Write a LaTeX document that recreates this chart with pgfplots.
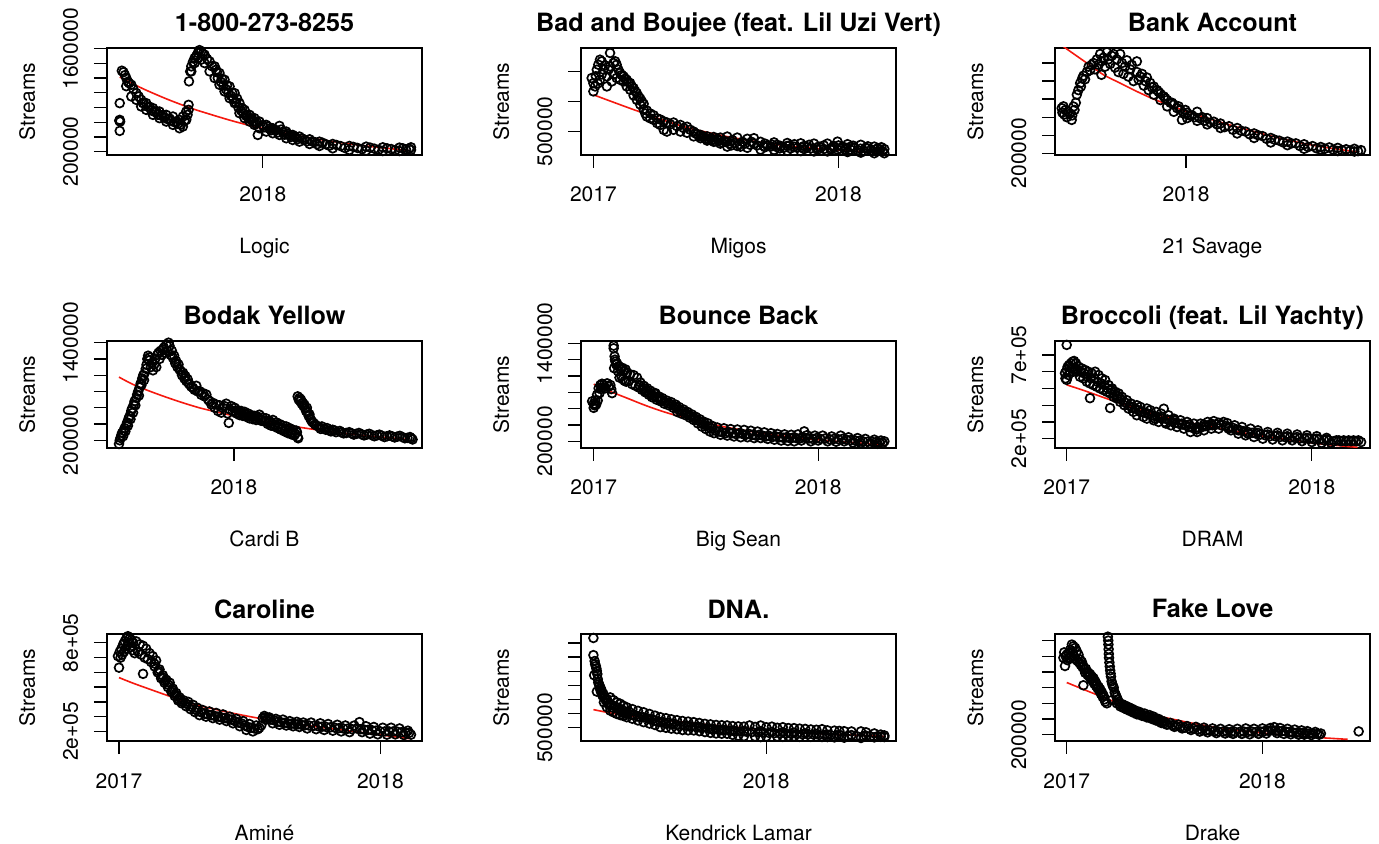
\documentclass[border=0pt]{standalone}
\usepackage{pgfplots}
\pgfplotsset{compat=1.18}
\usepackage{pgfplotstable}
\usepackage{fontspec}
\setmainfont{TeX Gyre Heros}
\definecolor{fitred}{RGB}{245,25,15}
\pgfplotsset{
  rpanel/.style={
    scale only axis, width=157.5pt, height=53.5pt, anchor=south west,
    axis line style={line width=0.65pt},
    every tick/.style={black, line width=0.65pt},
    tick align=outside, major tick length=6.5pt,
    xtick pos=bottom, ytick pos=left,
    scaled x ticks=false, scaled y ticks=false,
    /pgf/number format/assume math mode=true,
    tick label style={font=\fontsize{10.5}{12}\selectfont},
    yticklabel style={rotate=90, anchor=base},
    xticklabel style={anchor=base},
    xticklabel shift=17pt, yticklabel shift=8pt,
    title style={at={(axis description cs:0.5,1)}, anchor=base, yshift=2pt, font=\bfseries\fontsize{12.6}{14}\selectfont},
    xlabel style={at={(axis description cs:0.5,0)}, anchor=base, yshift=-49.5pt, font=\fontsize{10.5}{12}\selectfont},
    ylabel style={at={(axis description cs:-0.2286,0.5)}, anchor=base, font=\fontsize{10.5}{12}\selectfont},
    ylabel={Streams},
  },
  pts/.style={only marks, mark=o, mark size=2.2pt, mark options={line width=0.85pt, black}, black},
  fitl/.style={no marks, smooth, fitred, line width=0.8pt},
}
% x = years since 1 Jan 2017
\pgfplotstableread{
x y
0.320 859000
0.320 632000
0.322 609000
0.318 620000
0.320 482000
0.330 1300000
0.338 1280000
0.345 1240000
0.351 1200000
0.351 1090000
0.359 1150000
0.365 1130000
0.375 1109000
0.375 950000
0.385 1050000
0.399 995000
0.399 904000
0.410 950000
0.422 904000
0.422 814000
0.434 860000
0.446 859000
0.446 768000
0.462 810000
0.478 791000
0.478 700000
0.494 750000
0.509 745000
0.509 655000
0.525 700000
0.541 700000
0.541 609000
0.557 650000
0.573 677000
0.573 564000
0.588 610000
0.604 632000
0.604 518000
0.612 570000
0.620 677000
0.620 541000
0.628 620000
0.636 745000
0.636 632000
0.642 700000
0.647 836000
0.647 768000
0.649 1155000
0.655 1290000
0.660 1359000
0.660 1291000
0.668 1420000
0.676 1473000
0.676 1404000
0.684 1500000
0.691 1541000
0.691 1473000
0.699 1580000
0.707 1564000
0.707 1450000
0.715 1530000
0.723 1518000
0.723 1404000
0.735 1460000
0.747 1427000
0.747 1291000
0.759 1360000
0.771 1359000
0.771 1200000
0.778 1313000
0.782 1280000
0.794 1268000
0.794 1109000
0.806 1190000
0.818 1177000
0.818 1018000
0.830 1100000
0.842 1086000
0.842 927000
0.854 1000000
0.866 995000
0.866 859000
0.878 920000
0.889 859000
0.889 723000
0.901 790000
0.913 768000
0.913 655000
0.925 700000
0.937 700000
0.937 609000
0.949 650000
0.960 655000
0.960 564000
0.972 600000
0.976 427000
0.984 609000
0.984 518000
1.000 560000
1.016 564000
1.016 473000
1.031 510000
1.047 518000
1.047 450000
1.063 490000
1.079 550000
1.079 427000
1.095 470000
1.111 473000
1.111 382000
1.127 420000
1.142 427000
1.142 359000
1.158 390000
1.174 405000
1.174 336000
1.198 360000
1.222 368000
1.222 304000
1.246 330000
1.269 336000
1.269 277000
1.300 300000
1.332 304000
1.332 245000
1.370 275000
1.411 277000
1.411 223000
1.450 250000
1.491 268000
1.491 214000
1.530 240000
1.570 259000
1.570 209000
1.610 235000
1.649 255000
1.649 209000
1.680 230000
1.704 259000
1.704 223000
1.005 530000
1.024 540000
1.039 490000
1.055 500000
1.071 460000
1.087 500000
1.103 430000
1.119 440000
1.134 400000
1.150 410000
1.166 370000
1.186 380000
1.210 340000
1.234 340000
1.258 300000
1.284 320000
1.316 280000
1.350 290000
1.390 250000
1.430 265000
1.470 235000
1.510 255000
1.550 225000
1.590 245000
1.630 220000
1.665 245000
1.695 240000
0.430 860000
0.454 810000
0.470 760000
0.486 740000
0.502 700000
0.517 690000
0.533 660000
0.549 640000
0.565 620000
0.580 600000
0.596 580000
0.786 1200000
0.800 1150000
0.812 1100000
0.824 1050000
0.836 1000000
0.848 960000
0.860 920000
0.872 870000
0.884 800000
0.896 760000
0.907 720000
0.919 690000
0.931 650000
0.943 640000
0.955 610000
0.966 580000
}\ptA
\pgfplotstableread{
x y
0.320 1213600
0.430 1056000
0.541 918500
0.636 814000
0.699 752600
0.858 615600
1.000 514000
1.174 413000
1.332 338000
1.491 277000
1.696 213600
}\ftA
\pgfplotstableread{
x y
-0.007 1389000
0.000 1167000
0.000 1305000
0.007 1250000
0.010 1420000
0.014 1528000
0.018 1300000
0.020 1611000
0.027 1694000
0.027 1361000
0.034 1667000
0.034 1450000
0.041 1528000
0.048 1600000
0.055 1417000
0.055 1250000
0.062 1530000
0.068 1806000
0.068 1583000
0.075 1333000
0.082 1639000
0.082 1450000
0.089 1667000
0.095 1611000
0.095 1390000
0.102 1530000
0.109 1472000
0.109 1361000
0.116 1440000
0.123 1417000
0.123 1333000
0.130 1380000
0.136 1361000
0.136 1250000
0.143 1320000
0.150 1306000
0.150 1195000
0.157 1250000
0.164 1222000
0.164 1100000
0.171 1170000
0.177 1139000
0.177 1028000
0.184 1083000
0.191 1050000
0.191 950000
0.198 1000000
0.205 960000
0.205 870000
0.212 800000
0.218 850000
0.218 750000
0.232 800000
0.232 720000
0.246 770000
0.246 694000
0.260 720000
0.260 640000
0.273 700000
0.273 610000
0.287 670000
0.287 528000
0.300 650000
0.300 500000
0.314 620000
0.327 650000
0.327 530000
0.341 590000
0.355 610000
0.355 500000
0.368 560000
0.382 580000
0.382 480000
0.395 530000
0.409 500000
0.409 420000
0.423 460000
0.437 445000
0.437 390000
0.450 420000
0.464 420000
0.464 350000
0.478 390000
0.491 410000
0.491 330000
0.505 380000
0.518 400000
0.518 300000
0.532 350000
0.546 417000
0.546 250000
0.546 330000
0.567 360000
0.587 400000
0.587 260000
0.608 330000
0.628 380000
0.628 230000
0.655 390000
0.655 300000
0.682 330000
0.682 200000
0.710 270000
0.737 320000
0.737 195000
0.764 260000
0.791 310000
0.791 180000
0.818 250000
0.846 305000
0.846 175000
0.873 240000
0.900 300000
0.900 170000
0.928 240000
0.955 300000
0.955 170000
0.980 240000
0.996 333000
0.996 200000
1.016 250000
1.037 290000
1.037 160000
1.064 230000
1.091 280000
1.091 150000
1.118 220000
1.146 250000
1.146 140000
1.170 200000
1.187 210000
1.187 140000
0.416 470000
0.430 430000
0.444 410000
0.457 380000
0.471 370000
0.484 360000
0.498 340000
0.511 350000
0.525 320000
0.539 330000
0.556 300000
0.577 310000
0.597 290000
0.618 300000
0.640 280000
0.668 270000
0.695 260000
0.723 250000
0.750 240000
0.777 230000
0.805 220000
0.832 230000
0.860 210000
0.887 220000
0.914 200000
0.941 210000
0.968 200000
1.006 220000
1.027 200000
1.050 200000
1.078 190000
1.105 180000
1.132 190000
1.158 170000
1.180 170000
0.563 270000
0.600 250000
0.645 330000
0.700 300000
0.750 280000
0.800 270000
0.860 260000
0.920 250000
0.980 260000
1.050 250000
1.110 230000
1.160 220000
0.700 240000
0.730 280000
0.760 220000
0.790 260000
0.820 290000
0.850 240000
0.880 280000
0.910 230000
0.940 270000
0.970 225000
1.000 270000
1.030 230000
1.060 265000
1.090 215000
1.120 255000
1.150 200000
1.175 240000
}\ptB
\pgfplotstableread{
x y
0.000 1111000
0.136 906000
0.205 806000
0.273 706000
0.341 617000
0.409 539000
0.546 417000
0.682 322000
0.819 250000
0.955 206000
1.187 139000
}\ftB
\pgfplotstableread{
x y
0.515 700000
0.518 650000
0.522 720000
0.525 630000
0.530 680000
0.535 600000
0.540 660000
0.548 640000
0.554 570000
0.556 620000
0.561 718000
0.565 680000
0.570 760000
0.574 850000
0.580 900000
0.587 977000
0.590 940000
0.595 1030000
0.600 1060000
0.606 1020000
0.613 1100000
0.620 1160000
0.626 1120000
0.632 1180000
0.639 1200000
0.645 1130000
0.652 1240000
0.659 1180000
0.665 1300000
0.670 1220000
0.670 1070000
0.678 1260000
0.684 1160000
0.691 1320000
0.697 1240000
0.704 1190000
0.710 1280000
0.717 1300000
0.723 1150000
0.730 1240000
0.736 1100000
0.743 1300000
0.750 1200000
0.756 1080000
0.762 1160000
0.769 1230000
0.775 1050000
0.782 1130000
0.788 1180000
0.795 1000000
0.808 1218000
0.808 1100000
0.815 1015000
0.828 1080000
0.835 950000
0.847 1040000
0.854 900000
0.860 980000
0.874 940000
0.874 850000
0.887 900000
0.900 860000
0.900 790000
0.913 830000
0.926 790000
0.926 720000
0.939 760000
0.952 740000
0.952 660000
0.965 700000
0.984 570000
0.978 680000
0.991 640000
1.004 650000
1.004 590000
1.023 620000
1.043 660000
1.043 560000
1.063 600000
1.082 590000
1.082 520000
1.108 550000
1.134 530000
1.134 480000
1.167 500000
1.199 480000
1.199 420000
1.232 440000
1.265 420000
1.265 370000
1.298 390000
1.330 370000
1.330 320000
1.363 340000
1.395 330000
1.395 290000
1.428 310000
1.460 300000
1.460 250000
1.493 280000
1.525 270000
1.525 240000
1.558 265000
1.591 260000
1.591 225000
1.624 245000
1.656 250000
1.656 220000
1.682 235000
1.013 620000
1.033 600000
1.053 590000
1.072 560000
1.095 540000
1.121 520000
1.150 490000
1.183 460000
1.215 450000
1.248 410000
1.281 400000
1.314 360000
1.346 350000
1.379 320000
1.411 310000
1.444 280000
1.476 270000
1.509 255000
1.541 250000
1.574 240000
1.607 235000
1.640 230000
1.670 225000
0.821 1050000
0.841 1000000
0.867 930000
0.893 880000
0.919 810000
0.945 760000
0.971 720000
0.997 680000
}\ptC
\pgfplotstableread{
x y
0.515 1400000
0.535 1355500
0.613 1200000
0.678 1070000
0.743 977700
0.808 885100
0.874 799900
0.939 729600
1.004 662900
1.134 544300
1.265 440600
1.395 348000
1.525 273900
1.669 214700
}\ftC
\pgfplotstableread{
x y
0.550 155000
0.553 200000
0.556 230000
0.559 260000
0.562 290000
0.566 250000
0.569 320000
0.572 350000
0.575 310000
0.579 390000
0.582 420000
0.585 380000
0.588 470000
0.592 500000
0.595 460000
0.598 560000
0.601 590000
0.605 540000
0.608 640000
0.611 680000
0.614 630000
0.618 720000
0.621 760000
0.625 800000
0.628 750000
0.631 850000
0.635 900000
0.638 880000
0.641 960000
0.645 1000000
0.648 940000
0.651 1030000
0.655 1080000
0.658 1130000
0.661 1200000
0.664 1240000
0.667 1180000
0.670 1220000
0.675 1100000
0.680 1150000
0.683 1060000
0.688 1130000
0.692 1200000
0.696 1100000
0.700 1250000
0.705 1277000
0.709 1200000
0.713 1300000
0.718 1250000
0.722 1318000
0.726 1340000
0.730 1280000
0.735 1380000
0.739 1300000
0.744 1400000
0.748 1360000
0.752 1250000
0.757 1300000
0.761 1215000
0.766 1240000
0.770 1150000
0.774 1174000
0.779 1100000
0.783 1133000
0.787 1071000
0.792 1050000
0.797 1000000
0.801 1030000
0.806 960000
0.810 990000
0.814 927000
0.819 950000
0.823 900000
0.827 886000
0.833 860000
0.840 845000
0.846 820000
0.853 870000
0.859 800000
0.866 804000
0.872 760000
0.879 780000
0.885 740000
0.892 763000
0.899 700000
0.905 680000
0.912 640000
0.918 660000
0.925 600000
0.931 640000
0.938 560000
0.944 630000
0.951 540000
0.957 600000
0.964 620000
0.970 650000
0.975 530000
0.980 414000
0.984 580000
0.990 620000
0.996 558000
1.003 600000
1.010 530000
1.016 570000
1.022 510000
1.029 560000
1.035 500000
1.042 550000
1.048 490000
1.055 530000
1.061 470000
1.068 510000
1.074 460000
1.081 500000
1.087 450000
1.094 490000
1.100 515000
1.107 440000
1.113 480000
1.120 430000
1.126 470000
1.133 400000
1.139 440000
1.146 380000
1.153 450000
1.159 370000
1.166 420000
1.172 350000
1.179 400000
1.185 330000
1.192 380000
1.198 310000
1.205 370000
1.211 290000
1.218 350000
1.224 275000
1.231 330000
1.237 260000
1.244 320000
1.250 240000
1.247 300000
1.252 225000
1.250 740000
1.254 700000
1.257 720000
1.260 680000
1.263 700000
1.266 650000
1.270 660000
1.273 620000
1.276 640000
1.280 590000
1.283 560000
1.286 600000
1.289 540000
1.293 500000
1.296 520000
1.299 470000
1.302 454000
1.306 430000
1.312 414000
1.318 393000
1.325 380000
1.335 360000
1.345 370000
1.355 340000
1.365 350000
1.375 320000
1.387 330000
1.400 300000
1.415 315000
1.430 285000
1.452 300000
1.470 270000
1.490 290000
1.510 260000
1.530 280000
1.550 250000
1.570 270000
1.590 240000
1.610 260000
1.630 235000
1.650 255000
1.670 225000
1.690 240000
1.700 210000
1.340 340000
1.360 330000
1.380 310000
1.395 320000
1.420 300000
1.440 290000
1.462 285000
1.480 280000
1.500 275000
1.520 270000
1.540 265000
1.560 260000
1.580 255000
1.600 250000
1.620 248000
1.640 245000
1.660 240000
1.680 230000
1.695 225000
1.006 560000
1.019 540000
1.032 530000
1.045 520000
1.058 500000
1.071 490000
1.084 470000
1.097 460000
1.110 450000
1.123 440000
1.136 420000
1.149 410000
1.162 390000
1.175 370000
1.188 350000
1.201 340000
1.214 320000
1.227 300000
1.240 280000
}\ptD
\pgfplotstableread{
x y
0.550 976800
0.605 886400
0.670 804200
0.735 730000
0.801 660400
0.866 598700
0.931 549400
0.996 504200
1.126 426100
1.257 360300
1.387 302800
1.518 257600
1.687 208300
}\ftD
\pgfplotstableread{
x y
-0.007 690000
0.000 610000
0.000 660000
0.004 640000
0.007 700000
0.011 650000
0.015 770000
0.018 700000
0.022 850000
0.026 790000
0.030 890000
0.033 840000
0.037 905000
0.041 860000
0.045 890000
0.052 850000
0.060 910000
0.067 870000
0.074 890000
0.078 840000
0.082 790000
0.089 1371000
0.089 1339000
0.091 1095000
0.093 1240000
0.095 1200000
0.097 1176000
0.100 1140000
0.104 1155000
0.108 1060000
0.112 1120000
0.115 980000
0.119 1080000
0.123 1000000
0.127 1100000
0.130 960000
0.134 1060000
0.138 940000
0.142 1080000
0.145 930000
0.149 1040000
0.156 940000
0.163 1020000
0.171 900000
0.178 1010000
0.186 880000
0.193 980000
0.200 860000
0.208 920000
0.215 830000
0.223 880000
0.230 800000
0.238 850000
0.246 770000
0.253 820000
0.260 740000
0.268 790000
0.275 790000
0.280 710000
0.290 750000
0.298 690000
0.305 730000
0.315 660000
0.325 700000
0.335 640000
0.345 680000
0.355 610000
0.365 650000
0.372 560000
0.380 620000
0.390 540000
0.400 590000
0.409 520000
0.418 560000
0.428 490000
0.437 530000
0.446 460000
0.455 500000
0.464 420000
0.473 470000
0.482 380000
0.491 440000
0.500 350000
0.509 420000
0.518 320000
0.527 390000
0.536 300000
0.550 370000
0.565 280000
0.580 360000
0.595 270000
0.610 350000
0.625 260000
0.640 345000
0.655 250000
0.670 340000
0.685 250000
0.700 330000
0.715 240000
0.730 320000
0.744 240000
0.760 310000
0.775 230000
0.790 300000
0.805 220000
0.818 290000
0.835 210000
0.850 285000
0.865 205000
0.880 280000
0.893 200000
0.910 285000
0.938 322000
0.925 210000
0.950 275000
0.967 200000
0.985 270000
1.000 210000
1.020 270000
1.042 200000
1.060 260000
1.080 195000
1.100 270000
1.116 200000
1.135 250000
1.155 185000
1.175 240000
1.190 180000
1.210 230000
1.230 175000
1.250 220000
1.265 170000
1.280 210000
1.295 200000
0.505 390000
0.523 360000
0.543 330000
0.558 320000
0.573 310000
0.588 300000
0.603 310000
0.618 300000
0.633 290000
0.648 300000
0.663 290000
0.678 280000
0.693 290000
0.708 280000
0.723 270000
0.737 280000
0.752 270000
0.768 260000
0.783 265000
0.798 255000
0.812 260000
0.827 250000
0.843 245000
0.858 250000
0.872 240000
0.887 245000
0.902 240000
0.918 235000
0.931 250000
0.945 240000
0.959 235000
0.976 230000
0.993 240000
1.010 230000
1.031 235000
1.051 225000
1.070 230000
1.090 225000
1.108 230000
1.126 220000
1.145 215000
1.165 210000
1.183 205000
1.200 200000
1.220 195000
1.240 195000
1.258 190000
1.273 185000
1.288 180000
0.204 890000
0.219 850000
0.234 820000
0.250 790000
0.264 760000
0.285 730000
0.302 710000
0.320 680000
0.340 660000
0.360 630000
0.377 590000
0.395 570000
0.414 540000
0.432 510000
0.450 480000
0.468 450000
0.486 410000
}\ptE
\pgfplotstableread{
x y
0.000 899500
0.074 810100
0.149 728700
0.223 647400
0.298 574200
0.372 513200
0.446 464400
0.521 415600
0.595 370800
0.744 301700
0.893 248800
1.042 208200
1.295 159300
}\ftE
\pgfplotstableread{
x y
0.000 760000
-0.007 591000
-0.005 560000
0.000 610000
0.000 551000
0.004 630000
0.007 580000
0.010 640000
0.014 600000
0.017 650000
0.020 620000
0.024 660000
0.027 600000
0.030 664000
0.034 620000
0.038 650000
0.041 600000
0.048 630000
0.054 570000
0.061 620000
0.068 560000
0.075 610000
0.082 540000
0.088 600000
0.095 442000
0.095 530000
0.102 590000
0.109 520000
0.116 600000
0.123 510000
0.130 580000
0.136 500000
0.143 560000
0.150 490000
0.157 550000
0.164 480000
0.177 383000
0.171 520000
0.178 470000
0.185 500000
0.191 450000
0.198 480000
0.205 440000
0.212 470000
0.218 420000
0.225 450000
0.235 400000
0.245 430000
0.252 380000
0.262 410000
0.272 360000
0.286 400000
0.286 340000
0.300 390000
0.313 330000
0.327 380000
0.327 320000
0.341 370000
0.355 310000
0.365 360000
0.375 300000
0.385 350000
0.396 379000
0.405 290000
0.415 340000
0.425 280000
0.437 320000
0.450 270000
0.464 310000
0.478 260000
0.491 300000
0.505 240000
0.519 290000
0.532 240000
0.546 290000
0.560 250000
0.575 300000
0.590 260000
0.600 305000
0.620 260000
0.640 300000
0.655 293000
0.670 250000
0.685 280000
0.700 230000
0.715 270000
0.730 220000
0.750 260000
0.764 210000
0.780 250000
0.800 200000
0.820 240000
0.840 195000
0.860 235000
0.880 190000
0.900 230000
0.920 190000
0.940 225000
0.960 185000
0.980 220000
1.000 180000
1.020 215000
1.040 175000
1.060 205000
1.078 175000
1.100 190000
1.119 185000
1.130 190000
1.139 185000
1.150 190000
1.160 185000
1.170 190000
1.180 185000
1.190 190000
1.201 180000
0.044 610000
0.058 600000
0.071 590000
0.085 570000
0.099 560000
0.112 560000
0.126 540000
0.140 530000
0.153 520000
0.167 500000
0.181 490000
0.195 465000
0.208 455000
0.222 435000
0.240 415000
0.257 395000
0.267 385000
0.279 380000
0.293 370000
0.307 360000
0.320 355000
0.334 345000
0.348 340000
0.360 335000
0.370 330000
0.380 325000
0.390 320000
0.410 315000
0.420 310000
0.431 300000
0.443 295000
0.457 290000
0.471 285000
0.485 280000
0.498 270000
0.512 265000
0.526 265000
0.539 265000
0.553 270000
0.568 275000
0.582 280000
0.595 280000
0.610 285000
0.630 280000
0.648 275000
0.662 270000
0.678 265000
0.693 255000
0.708 250000
0.722 245000
0.740 240000
0.757 235000
0.772 230000
0.790 225000
0.810 220000
0.830 215000
0.850 215000
0.870 210000
0.890 210000
0.910 205000
0.930 205000
0.950 200000
0.970 200000
0.990 200000
1.010 195000
1.030 195000
1.050 190000
1.070 190000
1.090 185000
1.110 190000
0.300 360000
0.330 350000
0.360 320000
0.400 300000
0.440 310000
0.470 290000
0.500 285000
0.530 255000
0.560 285000
0.590 290000
0.620 295000
0.660 260000
0.700 250000
0.740 230000
0.780 235000
0.820 225000
0.860 220000
0.900 215000
0.940 210000
0.980 205000
1.020 200000
1.060 195000
}\ptF
\pgfplotstableread{
x y
0.000 521500
0.082 481800
0.150 446100
0.218 412400
0.286 378600
0.355 346900
0.491 299300
0.628 259600
0.764 223900
0.900 194100
1.037 168400
1.187 148600
}\ftF
\pgfplotstableread{
x y
-0.004 710000
0.000 632000
0.003 740000
0.006 700000
0.009 760000
0.012 720000
0.016 790000
0.019 740000
0.022 810000
0.025 760000
0.028 830000
0.031 780000
0.034 845000
0.038 800000
0.041 830000
0.044 770000
0.048 820000
0.051 750000
0.054 800000
0.060 730000
0.066 810000
0.073 740000
0.079 790000
0.085 720000
0.092 590000
0.092 780000
0.098 700000
0.104 760000
0.110 690000
0.117 730000
0.123 670000
0.129 710000
0.136 640000
0.142 680000
0.148 600000
0.155 620000
0.161 560000
0.168 580000
0.174 530000
0.181 550000
0.187 500000
0.194 530000
0.200 470000
0.206 490000
0.213 440000
0.219 460000
0.226 410000
0.232 430000
0.240 390000
0.248 410000
0.257 370000
0.265 400000
0.274 350000
0.283 380000
0.291 330000
0.300 360000
0.308 310000
0.320 345000
0.333 300000
0.346 335000
0.359 290000
0.372 325000
0.385 280000
0.398 315000
0.411 270000
0.424 300000
0.436 255000
0.449 285000
0.462 235000
0.475 270000
0.487 210000
0.499 250000
0.512 200000
0.525 240000
0.537 225000
0.550 290000
0.556 305000
0.563 280000
0.575 295000
0.588 255000
0.600 285000
0.614 245000
0.627 280000
0.640 240000
0.653 270000
0.666 235000
0.680 265000
0.690 230000
0.705 260000
0.720 220000
0.735 260000
0.754 215000
0.770 255000
0.785 210000
0.800 250000
0.818 205000
0.835 245000
0.850 200000
0.866 240000
0.882 195000
0.900 240000
0.920 263000
0.930 195000
0.945 235000
0.960 185000
0.975 230000
0.990 180000
1.009 225000
1.025 178000
1.041 225000
1.057 180000
1.073 220000
1.090 175000
1.105 205000
1.117 178000
0.135 660000
0.151 610000
0.164 570000
0.177 540000
0.190 515000
0.203 480000
0.216 450000
0.229 420000
0.244 400000
0.261 385000
0.278 365000
0.295 345000
0.314 330000
0.327 320000
0.340 315000
0.353 310000
0.366 305000
0.379 300000
0.392 295000
0.405 290000
0.418 285000
0.430 280000
0.443 270000
0.456 260000
0.468 255000
0.481 240000
0.493 230000
0.505 225000
0.518 220000
0.531 215000
0.544 240000
0.560 295000
0.569 290000
0.581 280000
0.594 275000
0.607 265000
0.620 262000
0.633 258000
0.646 255000
0.659 252000
0.673 250000
0.685 248000
0.698 245000
0.712 242000
0.727 240000
0.745 238000
0.762 235000
0.777 232000
0.793 230000
0.809 228000
0.826 225000
0.842 222000
0.858 220000
0.874 218000
0.891 215000
0.910 220000
0.925 215000
0.938 212000
0.952 210000
0.968 208000
0.983 205000
1.000 200000
1.017 200000
1.033 200000
1.049 200000
1.065 198000
1.081 195000
1.097 190000
1.110 190000
}\ptG
\pgfplotstableread{
x y
0.000 564600
0.054 526600
0.117 486300
0.181 446100
0.245 408000
0.308 374500
0.436 323000
0.563 280500
0.690 247000
0.818 217900
0.945 189000
1.111 150800
}\ftG
\pgfplotstableread{
x y
0.290 3677000
0.290 3070000
0.293 2358000
0.295 2860000
0.297 2750000
0.300 2680000
0.302 2600000
0.304 2510000
0.306 2400000
0.304 1780000
0.308 2220000
0.310 2100000
0.313 2040000
0.315 1980000
0.317 1870000
0.320 1900000
0.322 1750000
0.324 1810000
0.327 1640000
0.331 1700000
0.333 1400000
0.336 1580000
0.340 1480000
0.345 1520000
0.345 1230000
0.350 1400000
0.355 1300000
0.359 1575000
0.359 1350000
0.359 1108000
0.372 1480000
0.372 1200000
0.372 1050000
0.386 1400000
0.386 1200000
0.386 991000
0.400 1350000
0.400 1100000
0.400 950000
0.413 1280000
0.413 1050000
0.413 920000
0.427 1224000
0.427 1050000
0.427 874000
0.450 1160000
0.450 950000
0.450 820000
0.473 1100000
0.473 900000
0.473 760000
0.496 1049000
0.496 870000
0.496 699000
0.520 990000
0.520 800000
0.520 650000
0.543 930000
0.543 750000
0.543 600000
0.565 874000
0.565 700000
0.565 523000
0.588 840000
0.588 650000
0.588 500000
0.610 800000
0.610 620000
0.610 470000
0.633 770000
0.633 600000
0.633 450000
0.656 740000
0.656 420000
0.679 720000
0.679 560000
0.679 410000
0.702 699000
0.702 407000
0.725 670000
0.725 520000
0.725 380000
0.748 640000
0.748 350000
0.771 620000
0.771 460000
0.771 320000
0.794 600000
0.794 300000
0.817 590000
0.817 420000
0.817 290000
0.839 582000
0.839 290000
0.862 560000
0.862 400000
0.862 250000
0.885 550000
0.885 220000
0.908 540000
0.908 380000
0.908 200000
0.931 582000
0.954 530000
0.954 190000
0.977 580000
0.977 380000
0.977 173000
1.000 520000
1.000 190000
1.023 540000
1.023 350000
1.045 500000
1.045 190000
1.068 520000
1.068 340000
1.068 180000
1.091 490000
1.091 200000
1.114 488000
1.114 330000
1.114 196000
1.137 470000
1.137 180000
1.160 460000
1.160 300000
1.183 440000
1.183 180000
1.206 430000
1.206 280000
1.229 450000
1.229 175000
1.251 410000
1.251 260000
1.251 173000
1.280 400000
1.280 160000
1.300 390000
1.300 250000
1.320 380000
1.320 150000
1.350 370000
1.350 240000
1.389 372000
1.389 140000
1.410 340000
1.410 220000
1.444 300000
1.444 160000
1.470 260000
1.470 180000
1.485 231000
1.485 173000
0.366 1300000
0.380 1250000
0.393 1150000
0.406 1150000
0.420 1000000
0.438 1050000
0.461 950000
0.484 880000
0.508 850000
0.531 800000
0.554 720000
0.576 700000
0.599 680000
0.621 640000
0.644 560000
0.667 580000
0.690 550000
0.713 520000
0.736 500000
0.759 480000
0.782 450000
0.805 430000
0.828 420000
0.851 400000
0.873 380000
0.896 370000
0.919 360000
0.942 350000
0.965 340000
0.988 330000
1.011 320000
1.034 310000
1.057 300000
1.080 300000
1.103 290000
1.126 280000
1.149 270000
1.172 270000
1.195 260000
1.218 250000
1.240 240000
1.265 235000
1.290 230000
1.310 220000
1.335 215000
1.370 210000
1.400 200000
1.427 200000
1.457 200000
}\ptH
\pgfplotstableread{
x y
0.290 1142500
0.359 1025700
0.427 932200
0.565 792000
0.702 663600
0.839 546700
0.977 441600
1.114 348100
1.251 278000
1.485 196300
}\ftH
\pgfplotstableread{
x y
-0.017 1181000
-0.013 1250000
-0.009 1076000
-0.005 1200000
0.000 1223000
0.004 1150000
0.009 1240000
0.013 1180000
0.017 1280000
0.022 1200000
0.026 1349000
0.030 1250000
0.034 1328000
0.038 1200000
0.043 1307000
0.047 1160000
0.051 1265000
0.055 1140000
0.060 1220000
0.064 1120000
0.068 1160000
0.072 1090000
0.077 1130000
0.081 1060000
0.085 1076000
0.085 830000
0.090 1030000
0.094 990000
0.098 1040000
0.103 1000000
0.107 960000
0.111 990000
0.116 940000
0.120 970000
0.124 910000
0.129 940000
0.133 880000
0.137 920000
0.141 850000
0.146 880000
0.150 820000
0.154 840000
0.158 790000
0.163 810000
0.167 760000
0.171 780000
0.175 720000
0.180 740000
0.184 680000
0.188 700000
0.193 650000
0.197 620000
0.205 600000
0.210 1450000
0.212 1400000
0.213 1350000
0.214 1290000
0.215 1230000
0.216 1180000
0.218 1120000
0.220 1070000
0.222 1020000
0.224 980000
0.226 940000
0.229 880000
0.232 850000
0.236 820000
0.240 800000
0.245 740000
0.250 710000
0.255 680000
0.260 650000
0.230 640000
0.256 600000
0.265 620000
0.274 560000
0.283 590000
0.291 540000
0.300 570000
0.308 520000
0.317 550000
0.325 500000
0.334 530000
0.342 480000
0.350 510000
0.359 460000
0.372 490000
0.385 440000
0.398 470000
0.410 420000
0.423 450000
0.436 400000
0.444 430000
0.457 380000
0.470 400000
0.483 350000
0.496 370000
0.509 330000
0.530 350000
0.550 300000
0.570 330000
0.590 280000
0.615 310000
0.635 260000
0.660 300000
0.680 240000
0.701 290000
0.720 230000
0.745 280000
0.765 220000
0.786 275000
0.810 215000
0.830 270000
0.850 210000
0.872 275000
0.895 210000
0.915 280000
0.935 205000
0.957 275000
0.980 210000
1.000 280000
1.020 215000
1.040 285000
1.060 297000
1.075 220000
1.090 285000
1.110 210000
1.128 275000
1.145 205000
1.165 265000
1.185 200000
1.200 255000
1.214 200000
1.230 245000
1.250 195000
1.270 235000
1.290 200000
1.299 215000
1.492 242000
0.516 330000
0.540 320000
0.560 310000
0.580 300000
0.603 290000
0.625 280000
0.648 275000
0.670 265000
0.690 260000
0.711 255000
0.732 250000
0.755 245000
0.775 240000
0.798 240000
0.820 235000
0.840 235000
0.861 235000
0.884 235000
0.905 240000
0.925 235000
0.946 240000
0.968 235000
0.990 240000
1.010 245000
1.030 250000
1.050 255000
1.068 250000
1.082 250000
1.100 245000
1.119 240000
1.137 235000
1.155 230000
1.175 225000
1.193 225000
1.207 222000
1.222 220000
1.240 215000
1.260 210000
1.280 210000
0.269 590000
0.287 560000
0.304 540000
0.321 520000
0.338 500000
0.355 480000
0.366 470000
0.379 460000
0.392 450000
0.404 440000
0.417 430000
0.430 420000
0.440 410000
0.450 400000
0.463 390000
0.476 375000
0.490 360000
0.503 350000
}\ptI
\pgfplotstableread{
x y
0.000 865100
0.103 759800
0.188 675600
0.274 591400
0.359 519800
0.444 452400
0.615 359700
0.786 284000
0.957 233700
1.128 191300
1.299 161800
1.436 140800
}\ftI
\begin{document}
\begin{tikzpicture}
\path[use as bounding box] (0,0) rectangle (689.5pt,422pt);
% Row 1
\begin{axis}[rpanel, at={(53.5pt,344.5pt)},
  xmin=0.2595, xmax=1.7563, ymin=154575, ymax=1608975,
  xtick={1}, xticklabels={2018},
  ytick={200000,400000,600000,800000,1000000,1200000,1400000,1600000},
  yticklabels={200000,{},{},{},{},{},{},1600000},
  title={1-800-273-8255}, xlabel={Logic}]
\addplot[pts] table {\ptA};
\addplot[fitl] table {\ftA};
\end{axis}
\begin{axis}[rpanel, at={(290.5pt,344.5pt)},
  xmin=-0.0505, xmax=1.2347, ymin=111000, ymax=1888800,
  xtick={0,1}, xticklabels={2017,2018},
  ytick={500000,1000000,1500000},
  yticklabels={500000,{},{}},
  title={Bad and Boujee (feat. Lil Uzi Vert)}, xlabel={Migos}]
\addplot[pts] table {\ptB};
\addplot[fitl] table {\ftB};
\end{axis}
\begin{axis}[rpanel, at={(527.5pt,344.5pt)},
  xmin=0.489, xmax=1.717, ymin=181500, ymax=1366700,
  xtick={1}, xticklabels={2018},
  ytick={200000,400000,600000,800000,1000000,1200000},
  yticklabels={200000,{},{},{},{},{}},
  title={Bank Account}, xlabel={21 Savage}]
\addplot[pts] table {\ptC};
\addplot[fitl] table {\ftC};
\end{axis}
% Row 2
\begin{axis}[rpanel, at={(53.5pt,198pt)},
  xmin=0.503, xmax=1.737, ymin=105500, ymax=1420700,
  xtick={1}, xticklabels={2018},
  ytick={200000,400000,600000,800000,1000000,1200000,1400000},
  yticklabels={200000,{},{},{},{},{},1400000},
  title={Bodak Yellow}, xlabel={Cardi B}]
\addplot[pts] table {\ptD};
\addplot[fitl] table {\ftD};
\end{axis}
\begin{axis}[rpanel, at={(290.5pt,198pt)},
  xmin=-0.0565, xmax=1.3467, ymin=118700, ymax=1428200,
  xtick={0,1}, xticklabels={2017,2018},
  ytick={200000,400000,600000,800000,1000000,1200000,1400000},
  yticklabels={200000,{},{},{},{},{},1400000},
  title={Bounce Back}, xlabel={Big Sean}]
\addplot[pts] table {\ptE};
\addplot[fitl] table {\ftE};
\end{axis}
\begin{axis}[rpanel, at={(527.5pt,198pt)},
  xmin=-0.0477, xmax=1.2374, ymin=144500, ymax=783400,
  xtick={0,1}, xticklabels={2017,2018},
  ytick={200000,300000,400000,500000,600000,700000},
  yticklabels={2e+05,{},{},{},{},7e+05},
  title={Broccoli (feat. Lil Yachty)}, xlabel={DRAM}]
\addplot[pts] table {\ptF};
\addplot[fitl] table {\ftF};
\end{axis}
% Row 3
\begin{axis}[rpanel, at={(53.5pt,51.5pt)},
  xmin=-0.0459, xmax=1.1592, ymin=135100, ymax=859900,
  xtick={0,1}, xticklabels={2017,2018},
  ytick={200000,300000,400000,500000,600000,700000,800000},
  yticklabels={2e+05,{},{},{},{},{},8e+05},
  title={Caroline}, xlabel={Aminé}]
\addplot[pts] table {\ptG};
\addplot[fitl] table {\ftG};
\end{axis}
\begin{axis}[rpanel, at={(290.5pt,51.5pt)},
  xmin=0.239, xmax=1.533, ymin=32700, ymax=3817700,
  xtick={1}, xticklabels={2018},
  ytick={500000,1000000,1500000,2000000,2500000,3000000,3500000},
  yticklabels={500000,{},{},{},{},{},{}},
  title={DNA.}, xlabel={Kendrick Lamar}]
\addplot[pts] table {\ptH};
\addplot[fitl] table {\ftH};
\end{axis}
\begin{axis}[rpanel, at={(527.5pt,51.5pt)},
  xmin=-0.060, xmax=1.550, ymin=119700, ymax=1484100,
  xtick={0,1}, xticklabels={2017,2018},
  ytick={200000,400000,600000,800000,1000000,1200000,1400000},
  yticklabels={200000,{},{},{},{},{},{}},
  title={Fake Love}, xlabel={Drake}]
\addplot[pts] table {\ptI};
\addplot[fitl] table {\ftI};
\end{axis}
\end{tikzpicture}
\end{document}
